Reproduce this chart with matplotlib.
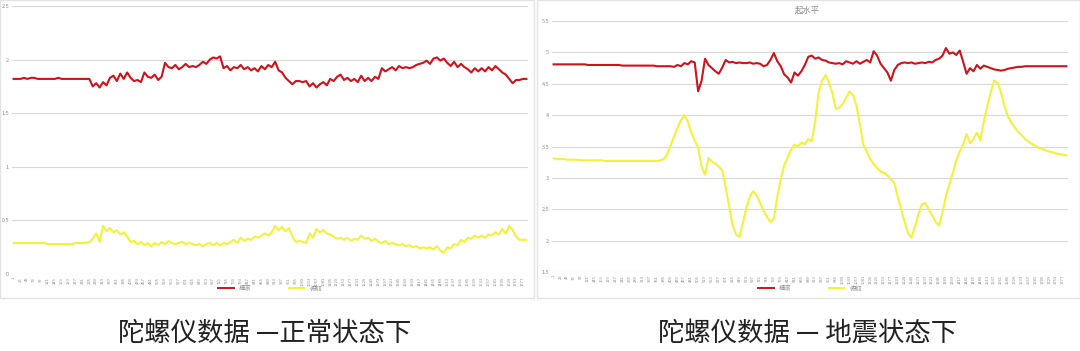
import matplotlib
matplotlib.use("Agg")
import matplotlib.pyplot as plt
from matplotlib.lines import Line2D
from matplotlib.patches import Rectangle

plt.rcParams["font.family"] = ["Noto Sans CJK SC", "DejaVu Sans"]

# ---- data ----
series_names = ["横滚", "俯仰"]

normal_roll = [
    1.82, 1.82, 1.82, 1.83, 1.82, 1.83, 1.83, 1.82, 1.82, 1.82,
    1.82, 1.82, 1.82, 1.83, 1.82, 1.82, 1.82, 1.82, 1.82, 1.82,
    1.82, 1.82, 1.82, 1.75, 1.78, 1.74, 1.79, 1.76, 1.83, 1.85,
    1.80, 1.87, 1.82, 1.88, 1.83, 1.80, 1.81, 1.79, 1.88, 1.84,
    1.83, 1.86, 1.81, 1.84, 1.97, 1.93, 1.92, 1.95, 1.91, 1.93,
    1.96, 1.93, 1.94, 1.93, 1.95, 1.98, 1.96, 2.00, 2.02, 2.01,
    2.03, 1.92, 1.94, 1.90, 1.93, 1.92, 1.95, 1.91, 1.93, 1.90,
    1.92, 1.89, 1.94, 1.91, 1.95, 1.93, 1.98, 1.90, 1.88, 1.83,
    1.80, 1.77, 1.80, 1.80, 1.79, 1.80, 1.75, 1.78, 1.74, 1.77,
    1.79, 1.76, 1.82, 1.80, 1.84, 1.86, 1.81, 1.83, 1.80, 1.82,
    1.79, 1.85, 1.80, 1.83, 1.80, 1.84, 1.82, 1.92, 1.89, 1.91,
    1.93, 1.90, 1.94, 1.92, 1.93, 1.92, 1.93, 1.95, 1.96, 1.97,
    1.99, 1.96, 2.01, 2.02, 1.99, 2.01, 1.97, 1.94, 1.98, 1.93,
    1.96, 1.93, 1.91, 1.88, 1.92, 1.89, 1.92, 1.89, 1.93, 1.90,
    1.94, 1.91, 1.88, 1.86, 1.82, 1.78, 1.81, 1.81, 1.82, 1.82,
]
normal_pitch = [
    0.29, 0.29, 0.29, 0.29, 0.29, 0.29, 0.29, 0.29, 0.29, 0.29,
    0.28, 0.28, 0.28, 0.28, 0.28, 0.28, 0.28, 0.28, 0.29, 0.29,
    0.29, 0.29, 0.30, 0.33, 0.38, 0.30, 0.45, 0.40, 0.43, 0.39,
    0.41, 0.37, 0.39, 0.35, 0.30, 0.31, 0.28, 0.30, 0.27, 0.29,
    0.26, 0.29, 0.27, 0.30, 0.28, 0.31, 0.29, 0.28, 0.29, 0.30,
    0.28, 0.29, 0.28, 0.27, 0.28, 0.26, 0.28, 0.29, 0.27, 0.29,
    0.27, 0.29, 0.28, 0.30, 0.32, 0.29, 0.34, 0.31, 0.33, 0.32,
    0.35, 0.34, 0.36, 0.38, 0.36, 0.39, 0.45, 0.41, 0.44, 0.40,
    0.43, 0.35, 0.30, 0.31, 0.30, 0.29, 0.38, 0.34, 0.42, 0.39,
    0.41, 0.38, 0.37, 0.35, 0.33, 0.34, 0.32, 0.34, 0.31, 0.33,
    0.32, 0.36, 0.33, 0.34, 0.31, 0.33, 0.30, 0.29, 0.31, 0.28,
    0.29, 0.28, 0.27, 0.28, 0.26, 0.27, 0.25, 0.26, 0.24, 0.25,
    0.24, 0.25, 0.23, 0.26, 0.22, 0.20, 0.25, 0.24, 0.28, 0.27,
    0.32, 0.30, 0.34, 0.33, 0.36, 0.34, 0.36, 0.34, 0.37, 0.36,
    0.39, 0.37, 0.42, 0.38, 0.45, 0.41, 0.35, 0.32, 0.32, 0.32,
]

quake_roll = [
    4.81, 4.81, 4.81, 4.81, 4.81, 4.81, 4.81, 4.81, 4.81, 4.81,
    4.80, 4.80, 4.80, 4.80, 4.80, 4.80, 4.80, 4.80, 4.80, 4.80,
    4.79, 4.79, 4.79, 4.79, 4.79, 4.79, 4.79, 4.79, 4.79, 4.79,
    4.78, 4.78, 4.78, 4.78, 4.78, 4.77, 4.80, 4.78, 4.83, 4.81,
    4.86, 4.84, 4.38, 4.55, 4.90, 4.80, 4.75, 4.70, 4.66, 4.76,
    4.88, 4.84, 4.85, 4.83, 4.84, 4.83, 4.83, 4.84, 4.82, 4.83,
    4.82, 4.78, 4.80, 4.88, 4.99, 4.86, 4.78, 4.65, 4.60, 4.52,
    4.68, 4.63, 4.70, 4.80, 4.93, 4.95, 4.90, 4.92, 4.88, 4.87,
    4.84, 4.83, 4.82, 4.83, 4.81, 4.86, 4.84, 4.82, 4.86, 4.82,
    4.85, 4.88, 4.84, 5.02, 4.95, 4.82, 4.75, 4.68, 4.55, 4.72,
    4.80, 4.83, 4.84, 4.83, 4.84, 4.82, 4.83, 4.84, 4.83, 4.85,
    4.84, 4.88, 4.90, 4.95, 5.07, 4.98, 5.00, 4.96, 5.03, 4.85,
    4.66, 4.75, 4.70, 4.80, 4.74, 4.79, 4.77, 4.75, 4.73, 4.72,
    4.71, 4.72, 4.74, 4.75, 4.76, 4.77, 4.77, 4.78, 4.78, 4.78,
    4.78, 4.78, 4.78, 4.78, 4.78, 4.78, 4.78, 4.78, 4.78, 4.78,
]
quake_pitch = [
    3.31, 3.30, 3.30, 3.30, 3.29, 3.29, 3.29, 3.29, 3.28, 3.28,
    3.28, 3.28, 3.28, 3.28, 3.28, 3.27, 3.27, 3.27, 3.27, 3.27,
    3.27, 3.27, 3.27, 3.27, 3.27, 3.27, 3.27, 3.27, 3.27, 3.27,
    3.27, 3.28, 3.30, 3.38, 3.52, 3.66, 3.80, 3.92, 4.00, 3.90,
    3.72, 3.60, 3.48, 3.18, 3.05, 3.32, 3.26, 3.23, 3.18, 3.12,
    2.85, 2.55, 2.25, 2.10, 2.06, 2.28, 2.52, 2.70, 2.79, 2.72,
    2.60, 2.48, 2.38, 2.30, 2.35, 2.70, 2.98, 3.20, 3.33, 3.45,
    3.53, 3.50, 3.56, 3.54, 3.62, 3.58, 3.90, 4.36, 4.55, 4.64,
    4.52, 4.35, 4.10, 4.12, 4.18, 4.28, 4.38, 4.32, 4.15, 3.85,
    3.53, 3.42, 3.30, 3.22, 3.16, 3.10, 3.08, 3.04, 2.98, 2.92,
    2.70, 2.50, 2.30, 2.12, 2.05, 2.22, 2.42, 2.58, 2.60, 2.50,
    2.40, 2.30, 2.24, 2.45, 2.71, 2.90, 3.08, 3.28, 3.42, 3.53,
    3.70, 3.55, 3.62, 3.72, 3.60, 3.90, 4.15, 4.36, 4.55, 4.52,
    4.36, 4.15, 3.98, 3.88, 3.80, 3.73, 3.68, 3.62, 3.58, 3.54,
    3.51, 3.48, 3.46, 3.44, 3.42, 3.41, 3.39, 3.38, 3.37, 3.36,
]

normal_yticks = [0, 0.5, 1, 1.5, 2, 2.5]
quake_yticks = [1.5, 2, 2.5, 3, 3.5, 4, 4.5, 5, 5.5]
quake_title = "起水平"
captions = ["陀螺仪数据 —正常状态下", "陀螺仪数据 — 地震状态下"]

RED = "#d0121b"
YELLOW = "#f2f23a"
GRID = "#d9d9d9"
LABEL = "#8c8c8c"


def style_axes(ax, n, yticks):
    ax.set_xlim(-0.5, n - 0.5)
    ax.set_ylim(yticks[0], yticks[-1])
    ax.set_yticks(yticks)
    ax.set_yticklabels([f"{t:g}" for t in yticks], fontsize=4, color=LABEL)
    ticks = list(range(0, n, 2))
    ax.set_xticks(ticks)
    ax.set_xticklabels([str(i * 12 + 1) for i in ticks], rotation=90,
                       fontsize=3, color=LABEL)
    ax.tick_params(length=0, pad=2)
    ax.grid(axis="y", color=GRID, lw=0.8)
    ax.set_axisbelow(True)
    for s in ax.spines.values():
        s.set_visible(False)


fig = plt.figure(figsize=(10.8, 3.51), dpi=100)

# panel frames
for x0, w in [(0.0, 0.494), (0.497, 0.503)]:
    fig.patches.append(Rectangle((x0, 0.152), w, 0.848, transform=fig.transFigure,
                                 fill=False, ec="#e3e3e3", lw=1.0))

ax1 = fig.add_axes([0.011, 0.219, 0.478, 0.764])
x = range(len(normal_roll))
ax1.plot(x, normal_roll, color=RED, lw=1.5)
ax1.plot(x, normal_pitch, color=YELLOW, lw=1.5)
style_axes(ax1, len(normal_roll), normal_yticks)

ax2 = fig.add_axes([0.511, 0.225, 0.478, 0.715])
x = range(len(quake_roll))
ax2.plot(x, quake_roll, color=RED, lw=1.5)
ax2.plot(x, quake_pitch, color=YELLOW, lw=1.5)
style_axes(ax2, len(quake_roll), quake_yticks)
fig.text(0.748, 0.972, quake_title, ha="center", va="center", fontsize=6, color=LABEL)

handles = [Line2D([], [], color=RED, lw=1.4), Line2D([], [], color=YELLOW, lw=1.4)]
for cx in [0.25, 0.75]:
    fig.legend(handles, series_names, loc="center", bbox_to_anchor=(cx, 0.178),
               ncol=2, frameon=False, fontsize=4.5, handlelength=2.5,
               columnspacing=6, labelcolor=LABEL)

fig.text(0.245, 0.05, captions[0], ha="center", va="center", fontsize=19, color="#222222")
fig.text(0.748, 0.05, captions[1], ha="center", va="center", fontsize=19, color="#222222")

fig.savefig("out.png", dpi=100)
